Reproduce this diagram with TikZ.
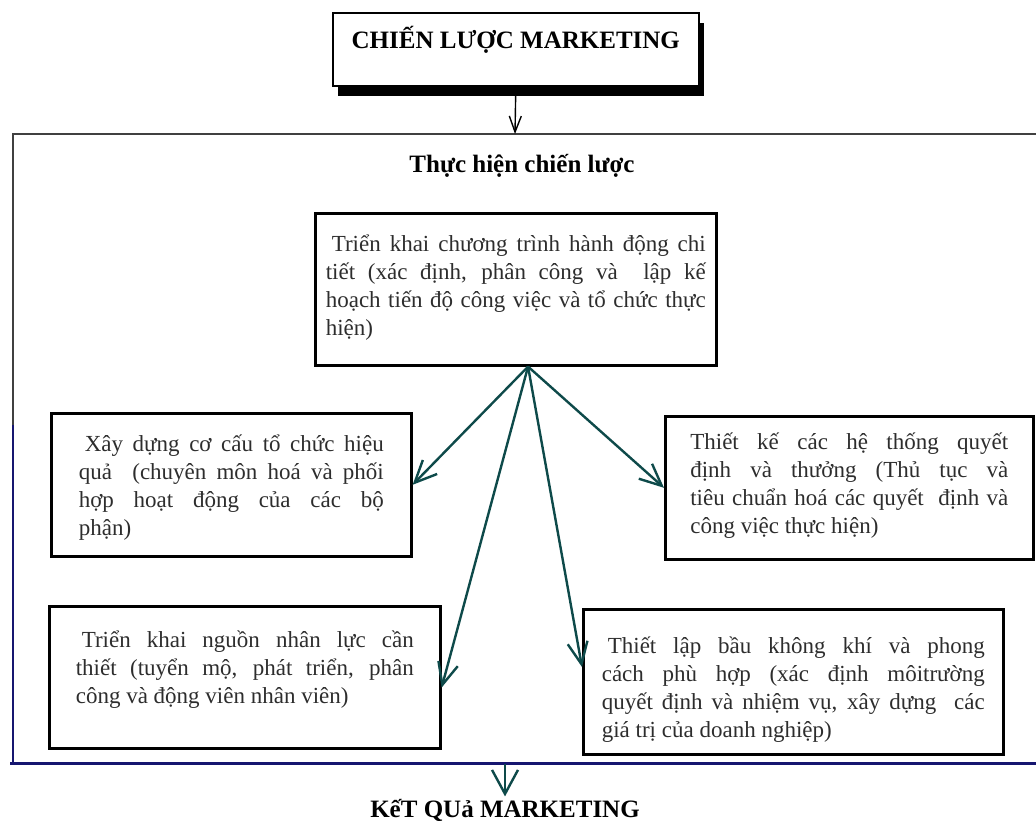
\documentclass[tikz,border=0pt]{standalone}
\usepackage{fontspec}
\setmainfont{Liberation Serif}
\usetikzlibrary{arrows.meta}
\usetikzlibrary{shadows}
\definecolor{arrowteal}{RGB}{14,74,74}
\definecolor{framenavy}{RGB}{22,22,112}
\definecolor{textgrey}{RGB}{45,45,45}

\begin{document}
\begin{tikzpicture}[x=0.5pt, y=-0.5pt,
    taskbox/.style={draw, line width=1.3pt, anchor=north west, inner sep=0pt,
      align=justify, text=textgrey, font=\fontsize{11.5}{14}\selectfont},
    headtext/.style={font=\bfseries\fontsize{12.5}{14}\selectfont},
    flow/.style={arrowteal, line width=1.2pt, -{Straight Barb[length=11pt, width=10pt]}}]
  \useasboundingbox (0,0) rectangle (1036,820);

  \node[draw, line width=0.8pt, fill=white, anchor=north west, inner sep=0pt,
        minimum width=183pt, text height=18pt, text depth=18.5pt, headtext,
        drop shadow={shadow xshift=2.5pt, shadow yshift=-5pt, fill=black, opacity=1}]
        (strategy) at (332,12) {CHIẾN LƯỢC MARKETING};

  \coordinate (entry) at (515,134);
  \coordinate (exit) at (505,764);
  \draw[black!75, line width=1pt] (13,425) -- (13,134) -- (1036,134);
  \draw[framenavy, line width=1pt] (13,425) -- (13,762);
  \draw[framenavy, line width=1.5pt] (10,763) -- (1036,763);

  \node[headtext, anchor=base] (phase) at (522,172) {Thực hiện chiến lược};

  \node[taskbox, minimum width=200.5pt, text width=190pt, text height=19pt, text depth=57pt]
        (plan) at (314,212) {\hspace*{3pt}Triển khai chương trình hành động chi\linebreak
        tiết (xác định, phân công và\ \ lập kế\linebreak
        hoạch tiến độ công việc và tổ chức thực\linebreak
        hiện)};
  \node[taskbox, minimum width=180pt, text width=152.5pt, text height=19pt, text depth=52.5pt]
        (structure) at (50,412) {\hspace*{3pt}Xây dựng cơ cấu tổ chức hiệu\linebreak
        quả\ \ (chuyên môn hoá và phối\linebreak
        hợp hoạt động của các bộ\linebreak
        phận)};
  \node[taskbox, minimum width=184pt, text width=159pt, text height=16.5pt, text depth=55pt]
        (reward) at (664,415) {Thiết kế các hệ thống quyết\linebreak
        định và thưởng (Thủ tục và\linebreak
        tiêu chuẩn hoá các quyết\ \ định và\linebreak
        công việc thực hiện)};
  \node[taskbox, minimum width=195.5pt, text width=169pt, text height=20.5pt, text depth=50.5pt]
        (staff) at (48,605) {\hspace*{3pt}Triển khai nguồn nhân lực cần\linebreak
        thiết (tuyển mộ, phát triển, phân\linebreak
        công và động viên nhân viên)};
  \node[taskbox, minimum width=210pt, text width=191.5pt, text height=22pt, text depth=50.5pt]
        (climate) at (582,608) {\hspace*{3pt}Thiết lập bầu không khí và phong\linebreak
        cách phù hợp (xác định môitrường\linebreak
        quyết định và nhiệm vụ, xây dựng\ \ các\linebreak
        giá trị của doanh nghiệp)};

  \node[headtext, anchor=base, inner sep=1pt] (result) at (505,817) {KếT QUả MARKETING};

  \draw[line width=0.7pt, -{Straight Barb[length=8pt, width=6pt]}] (strategy.south) -- (entry);
  \draw[flow] (plan.-81) -- (structure.east);
  \draw[flow] (plan.-81) -- (reward.west);
  \draw[flow] (plan.-81) -- (staff.-3);
  \draw[flow] (plan.-81) -- (climate.176);
  \draw[flow, -{Straight Barb[length=12pt, width=13pt]}] (exit) -- (result.north);
\end{tikzpicture}
\end{document}
